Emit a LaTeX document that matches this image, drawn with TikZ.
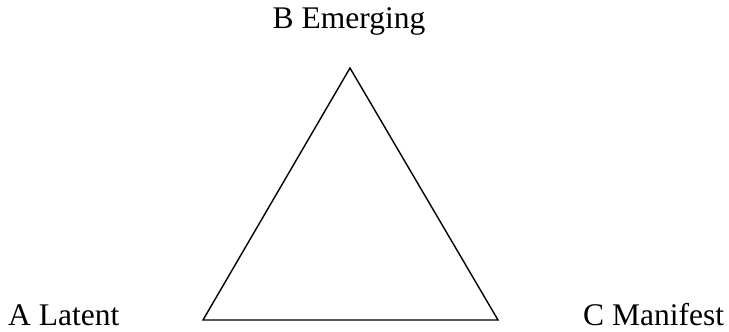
\documentclass[tikz,border=0pt]{standalone}
\usepackage{fontspec}
\setmainfont{Liberation Serif}
\begin{document}
\begin{tikzpicture}[x=1pt,y=-1pt,
  lbl/.style={inner sep=0pt,font=\fontsize{31.5}{36}\selectfont},
  edge/.style={draw=black,line width=1.4pt,line join=miter}]
\useasboundingbox (0,0) rectangle (729,332);
\coordinate (b) at (350,68);
\coordinate (a) at (203,320);
\coordinate (c) at (498,320);
\draw[edge] (a) -- (b) -- (c) -- cycle;
\node[lbl,anchor=base] (lb) at (349,28) {B Emerging};
\node[lbl,anchor=base west] (la) at (8,325) {A Latent};
\node[lbl,anchor=base west] (lc) at (583,325) {C Manifest};
\end{tikzpicture}
\end{document}
